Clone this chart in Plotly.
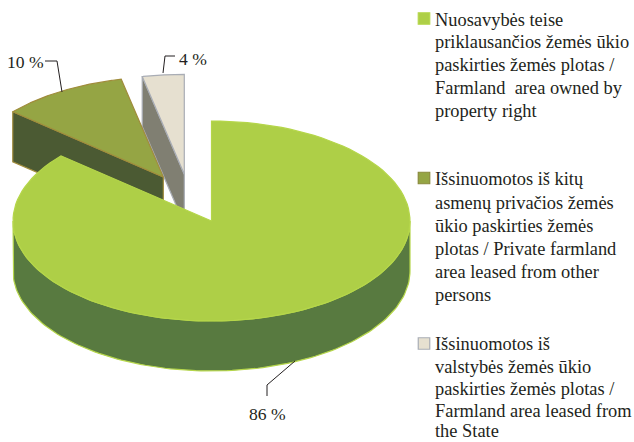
import math
import plotly.graph_objects as go

# Data
categories = ["Nuosavybės teise", "Išsinuomotos iš kitų", "Išsinuomotos iš valstybės"]
shares = [86.3, 10.3, 3.4]
share_labels = ["86 %", "10 %", "4 %"]
legend_lines = [
    ["Nuosavybės teise", "priklausančios žemės ūkio", "paskirties žemės plotas /",
     "Farmland\u00a0 area owned by", "property right"],
    ["Išsinuomotos iš kitų", "asmenų privačios žemės", "ūkio paskirties žemės",
     "plotas / Private farmland", "area leased from other", "persons"],
    ["Išsinuomotos iš", "valstybės žemės ūkio", "paskirties žemės plotas /",
     "Farmland area leased from", "the State"],
]

# Style and layout
top_colors = ["#AECF47", "#95A544", "#E6E0D0"]
wall_colors = ["#587A40", "#4B5A33", "#807F72"]
edge_colors = ["#B5D64A", "#A08C3C", "#A9ADB5"]
swatch_edges = ["#B5D64A", "#8A8A3C", "#A9ADB5"]
apexes = [(211.5, 221), (163.3, 177), (184.3, 174.3)]
RX, RY, DEPTH = 198.5, 100, 50
FONT = "Liberation Serif"
TEXT = "#231F20"
legend_y = [[19.5, 41.5, 64.5, 87.5, 110.5], [179, 203, 226, 249, 272, 295], [344, 367, 389, 411, 431]]
swatch_y = [18.5, 178, 343.5]


def rim(apex, t0, t1, n=120):
    pts = []
    for i in range(n + 1):
        t = math.radians(t0 + (t1 - t0) * i / n)
        pts.append((apex[0] + RX * math.sin(t), apex[1] - RY * math.cos(t)))
    return pts


def poly(pts, fill, line=None, width=1.2):
    xs = [p[0] for p in pts] + [pts[0][0]]
    ys = [p[1] for p in pts] + [pts[0][1]]
    return go.Scatter(x=xs, y=ys, mode="lines", fill="toself", fillcolor=fill,
                      line=dict(color=line or fill, width=width),
                      hoverinfo="skip", showlegend=False)


def leader(xs, ys):
    return go.Scatter(x=xs, y=ys, mode="lines", line=dict(color=TEXT, width=1),
                      hoverinfo="skip", showlegend=False)


# slice angles, clockwise from 12 o'clock
angles = []
acc = 0.0
for s in shares:
    angles.append((acc * 3.6, (acc + s) * 3.6))
    acc += s

fig = go.Figure()
# draw back slices first, main slice last
for idx in [2, 1, 0]:
    a0, a1 = angles[idx]
    ap = apexes[idx]
    r = rim(ap, a0, a1)
    if idx == 0:
        front = rim(ap, 90, 270)
        wall = front + [(x, y + DEPTH) for x, y in reversed(front)]
    else:
        p = r[0]
        wall = [ap, p, (p[0], p[1] + DEPTH), (ap[0], ap[1] + DEPTH)]
    fig.add_trace(poly(wall, wall_colors[idx], edge_colors[idx]))
    fig.add_trace(poly([ap] + r, top_colors[idx], edge_colors[idx]))

# leader lines
fig.add_trace(leader([295, 267, 267], [361, 385, 396]))
fig.add_trace(leader([62, 57, 45], [92, 61, 61]))
fig.add_trace(leader([163, 165, 175], [73, 56, 56]))

# legend swatches
fig.add_trace(go.Scatter(
    x=[424] * 3, y=swatch_y, mode="markers",
    marker=dict(symbol="square", size=11.5, color=top_colors,
                line=dict(color=swatch_edges, width=1.2)),
    hoverinfo="skip", showlegend=False))

annotations = []


def add_text(x, y, s, anchor="left", size=18.4):
    annotations.append(dict(x=x, y=y, text=s, showarrow=False, xanchor=anchor, yanchor="middle",
                            xref="x", yref="y", align=anchor,
                            font=dict(family=FONT, size=size, color=TEXT)))


for lines, ys in zip(legend_lines, legend_y):
    for line, y in zip(lines, ys):
        add_text(432.5, y, line)
add_text(267, 414, share_labels[0], "center", 17.6)
add_text(45.5, 62, share_labels[1], "right", 17.6)
add_text(177, 59, share_labels[2], "left", 17.6)

fig.update_layout(
    width=634, height=442, margin=dict(l=0, r=0, t=0, b=0),
    paper_bgcolor="white", plot_bgcolor="white", showlegend=False,
    xaxis=dict(range=[0, 634], visible=False, fixedrange=True),
    yaxis=dict(range=[442, 0], visible=False, fixedrange=True),
    annotations=annotations,
)
fig.write_html("out.html", config=dict(displayModeBar=False), default_width="634px", default_height="442px",
               include_plotlyjs=True, post_script="document.body.style.margin='0';")
